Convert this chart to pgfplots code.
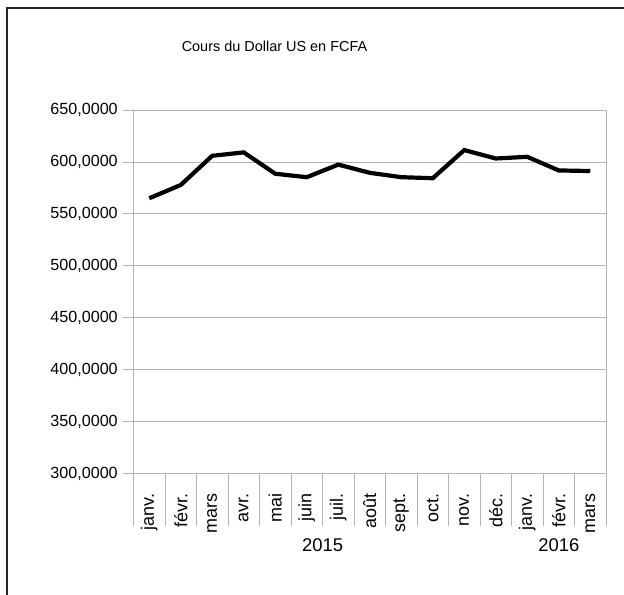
\documentclass[border=0pt]{standalone}
\usepackage{fontspec}
\setmainfont{Liberation Sans}
\usepackage{pgfplots}
\pgfplotsset{compat=1.18}
\definecolor{gridgray}{HTML}{B3B3B3}
\definecolor{framegray}{HTML}{262626}
\begin{document}
\begin{tikzpicture}[x=1bp,y=1bp]
\path[use as bounding box] (0,0) rectangle (624,595);
\draw[framegray, line width=1.5bp] (7,0) -- (7,587) -- (624,587);
\node[font=\fontsize{14.5}{17}\selectfont] at (274.5,549) {Cours du Dollar US en FCFA};
\begin{axis}[
  at={(133.5bp,121.5bp)}, anchor=south west,
  scale only axis, width=472.5bp, height=363.5bp,
  xmin=-0.5, xmax=14.5, ymin=300, ymax=650,
  ytick={300,350,...,650},
  tick pos=left,
  ymajorgrids, grid style={gridgray, line width=0.8bp},
  axis line style={gridgray, line width=0.8bp},
  tick style={gridgray, line width=0.8bp},
  tick align=outside,
  yticklabel style={font=\fontsize{16.2}{18}\selectfont, xshift=-8bp,
    /pgf/number format/fixed, /pgf/number format/fixed zerofill,
    /pgf/number format/precision=4, /pgf/number format/use comma,
    /pgf/number format/1000 sep={}, /pgf/number format/assume math mode=true},
  ytick style={/pgfplots/major tick length=10.5bp},
  xtick={0,...,14},
  xticklabels={janv.,févr.,mars,avr.,mai,juin,juil.,août,sept.,oct.,nov.,déc.,janv.,févr.,mars},
  xticklabel style={rotate=90, anchor=east, font=\fontsize{18}{20}\selectfont, xshift=-16bp, inner sep=0pt},
  xtick style={/pgfplots/major tick length=0pt},
  minor xtick={-0.5,0.5,...,14.5},
  minor tick length=52bp,
  extra x ticks={-0.5,11.5,14.5},
  extra x tick labels={},
  extra x tick style={/pgfplots/major tick length=76.5bp},
  clip=false,
]
\addplot[black, line width=4.2bp] coordinates {
  (0,565.0) (1,577.8) (2,605.9) (3,609.2) (4,588.6) (5,585.3) (6,597.4)
  (7,589.5) (8,585.3) (9,584.3) (10,611.4) (11,603.3) (12,604.9) (13,591.8) (14,591.2)
};
\node[font=\fontsize{18.5}{20}\selectfont] at ([yshift=-72bp]axis cs:5.5,300) {2015};
\node[font=\fontsize{18.5}{20}\selectfont] at ([yshift=-72bp]axis cs:13,300) {2016};
\end{axis}
\end{tikzpicture}
\end{document}
